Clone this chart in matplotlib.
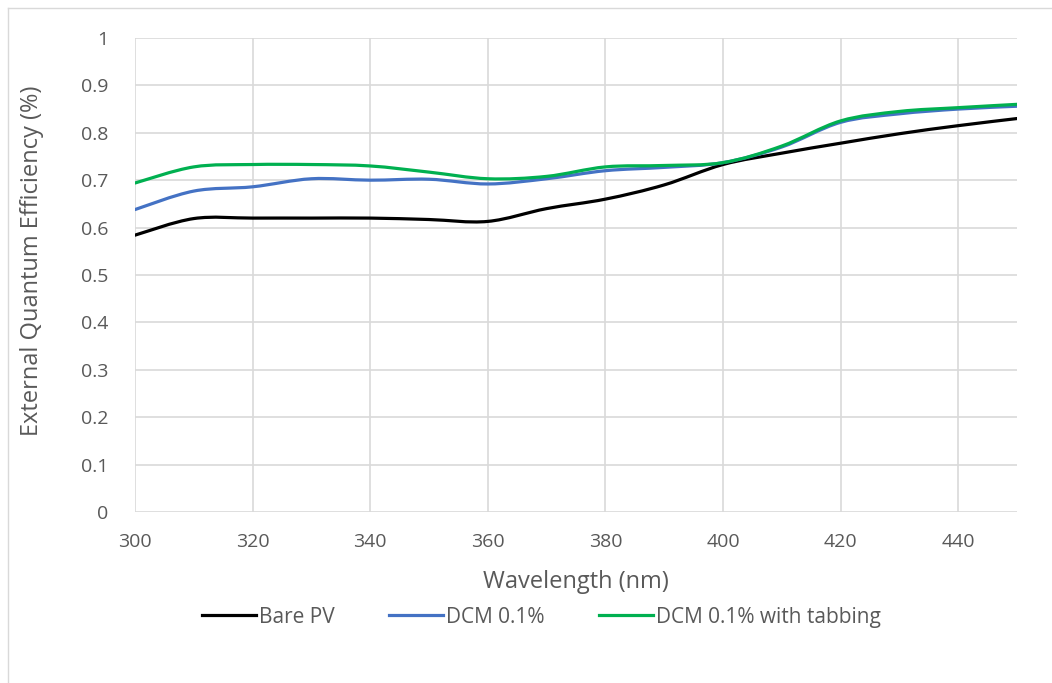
import numpy as np
import matplotlib.pyplot as plt
from matplotlib.path import Path
from matplotlib.patches import PathPatch
from matplotlib.lines import Line2D

wavelength = [300, 310, 320, 330, 340, 350, 360, 370, 380, 390, 400, 410, 420, 430, 440, 450]
bare_pv = [0.584, 0.619, 0.620, 0.620, 0.620, 0.617, 0.613, 0.640, 0.660, 0.690, 0.733, 0.757, 0.778, 0.798, 0.815, 0.830]
dcm = [0.638, 0.677, 0.686, 0.703, 0.700, 0.702, 0.692, 0.703, 0.720, 0.727, 0.737, 0.770, 0.822, 0.840, 0.850, 0.856]
dcm_tab = [0.694, 0.728, 0.733, 0.733, 0.730, 0.717, 0.703, 0.708, 0.728, 0.731, 0.737, 0.772, 0.825, 0.845, 0.853, 0.860]

series = [("Bare PV", bare_pv, "#000000"),
          ("DCM 0.1%", dcm, "#4472c4"),
          ("DCM 0.1% with tabbing", dcm_tab, "#00b050")]

TXT = "#595959"
plt.rcParams['font.family'] = ['Open Sans', 'DejaVu Sans']


# smoothed line like excel: catmull-rom turned into bezier segments
def smooth_path(x, y):
  p = np.column_stack([x, y]).astype(float)
  verts = [p[0]]
  codes = [Path.MOVETO]
  n = len(p)
  for i in range(n - 1):
    p0 = p[max(i - 1, 0)]
    p1 = p[i]
    p2 = p[i + 1]
    p3 = p[min(i + 2, n - 1)]
    c1 = p1 + (p2 - p0) / 6.0
    c2 = p2 - (p3 - p1) / 6.0
    verts += [c1, c2, p2]
    codes += [Path.CURVE4] * 3
  return Path(verts, codes)


fig = plt.figure(figsize=(10.52, 6.83), dpi=100)
ax = fig.add_axes([0.1283, 0.2504, 0.8384, 0.6940])

for name, vals, col in series:
  patch = PathPatch(smooth_path(wavelength, vals), facecolor='none', edgecolor=col,
                    lw=2.3, capstyle='round', joinstyle='round', zorder=3)
  ax.add_patch(patch)

ax.set_xlim(300, 450)
ax.set_ylim(0, 1)
ax.set_xticks(np.arange(300, 441, 20))
ax.set_yticks(np.arange(0, 1.01, 0.1))
ax.set_yticklabels(["0", "0.1", "0.2", "0.3", "0.4", "0.5", "0.6", "0.7", "0.8", "0.9", "1"])
ax.grid(True, color="#d9d9d9", lw=1.2)
ax.set_axisbelow(True)
for s in ax.spines.values():
  s.set_visible(False)
ax.tick_params(length=0, labelsize=14, colors=TXT)
ax.tick_params(axis='y', pad=19)
ax.tick_params(axis='x', pad=15)
ax.set_xlabel("Wavelength (nm)", fontsize=17, color=TXT)
ax.set_ylabel("External Quantum Efficiency (%)", fontsize=17, color=TXT)
ax.xaxis.set_label_coords(0.5, -0.123)
ax.yaxis.set_label_coords(-0.103, 0.53)

handles = [Line2D([], [], color=c, lw=2.3) for _, _, c in series]
ax.legend(handles, [s[0] for s in series], loc='center', bbox_to_anchor=(0.461, -0.222),
          ncol=3, frameon=False, fontsize=15, labelcolor=TXT, handlelength=2.6,
          handletextpad=0.15, columnspacing=2.6)

# outer chart border (only top and left show in the original)
fig.add_artist(Line2D([0.0076, 1.0], [0.988, 0.988], transform=fig.transFigure, color="#d9d9d9", lw=1))
fig.add_artist(Line2D([0.0076, 0.0076], [0.0, 0.988], transform=fig.transFigure, color="#d9d9d9", lw=1))

fig.savefig("out.png", dpi=100)
